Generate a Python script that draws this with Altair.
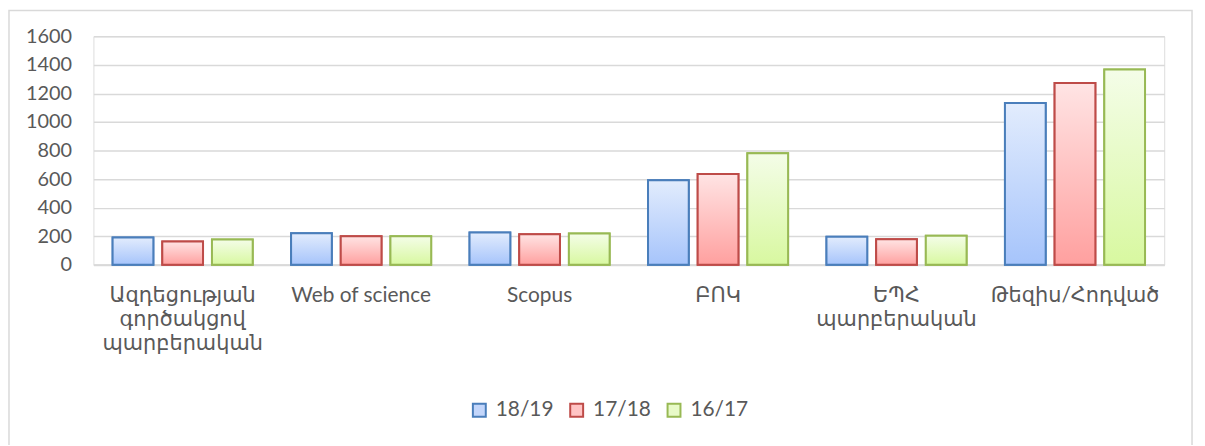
import altair as alt
import pandas as pd

categories = [
    "Ազդեցության\nգործակցով\nպարբերական",
    "Web of science",
    "Scopus",
    "ԲՈԿ",
    "ԵՊՀ\nպարբերական",
    "Թեզիս/Հոդված",
]
series = ["18/19", "17/18", "16/17"]
v_1819 = [191, 221, 226, 591, 196, 1133]
v_1718 = [163, 200, 214, 635, 179, 1272]
v_1617 = [177, 200, 219, 781, 203, 1367]
y_ticks = [0, 200, 400, 600, 800, 1000, 1200, 1400, 1600]

strokes = ["#4a7ebb", "#be4b48", "#98b954"]
flat = ["#c3d6fb", "#ffc4c4", "#e8fac8"]
grad_top = ["#e2ecfd", "#ffe4e4", "#f4fde8"]
grad_bot = ["#a6c4fb", "#ffa09f", "#d8f8a0"]

rows = []
for s, vals in zip(series, [v_1819, v_1718, v_1617]):
    for c, v in zip(categories, vals):
        rows.append({"category": c, "series": s, "value": v})
df = pd.DataFrame(rows)

FONT = "Lato, 'Noto Sans', 'DejaVu Sans', sans-serif"
W, H = 1078, 230

x_enc = alt.X(
    "category:N",
    sort=categories,
    scale=alt.Scale(paddingInner=0.165, paddingOuter=0.0825),
    axis=alt.Axis(
        title=None,
        labelAngle=0,
        labelExpr="split(datum.label, '\\n')",
        labelFontSize=21,
        labelColor="#595959",
        labelFont=FONT,
        labelLineHeight=24,
        labelPadding=20,
        ticks=False,
        domainColor="#d9d9d9",
        domainWidth=2,
        labelBaseline="top",
    ),
)
xo_enc = alt.XOffset(
    "series:N",
    sort=series,
    scale=alt.Scale(domain=series, paddingInner=0.18, paddingOuter=0.09),
)
y_enc = alt.Y(
    "value:Q",
    scale=alt.Scale(domain=[0, 1600], nice=False),
    axis=alt.Axis(
        title=None,
        values=y_ticks,
        format="d",
        labelFontSize=20,
        labelColor="#595959",
        labelFont=FONT,
        labelPadding=22,
        ticks=False,
        domain=False,
        gridColor="#d9d9d9",
        gridWidth=1.5,
    ),
)

legend = alt.Legend(
    title=None,
    orient="none",
    direction="horizontal",
    legendX=378,
    legendY=366,
    symbolType="square",
    symbolSize=169,
    symbolStrokeWidth=2,
    labelFontSize=21,
    labelColor="#595959",
    labelFont=FONT,
    columnPadding=12,
    labelOffset=6,
)

base = alt.Chart(df).mark_bar(strokeWidth=2).encode(
    x=x_enc,
    xOffset=xo_enc,
    y=y_enc,
    fill=alt.Fill(
        "series:N",
        sort=series,
        scale=alt.Scale(domain=series, range=flat),
        legend=legend,
    ),
    stroke=alt.Stroke(
        "series:N",
        sort=series,
        scale=alt.Scale(domain=series, range=strokes),
        legend=legend,
    ),
)

overlays = []
for i, s in enumerate(series):
    grad = alt.LinearGradient(
        gradient="linear",
        stops=[
            alt.GradientStop(color=grad_top[i], offset=0),
            alt.GradientStop(color=grad_bot[i], offset=1),
        ],
        x1=0, x2=0, y1=0, y2=1,
    )
    overlays.append(
        alt.Chart(df)
        .transform_filter(alt.datum.series == s)
        .mark_bar(fill=grad, stroke=strokes[i], strokeWidth=2)
        .encode(x=x_enc, xOffset=xo_enc, y=y_enc)
    )

frame = alt.Chart(pd.DataFrame({"a": [0]})).mark_rect(
    fill=None, stroke="#d9d9d9", strokeWidth=1.5
).encode(
    x=alt.value(-85), x2=alt.value(1106), y=alt.value(-26), y2=alt.value(420)
)

chart = (
    alt.layer(frame, base, *overlays)
    .properties(
        width=W,
        height=H,
        padding={"left": 86, "top": 27, "right": 33, "bottom": 180},
        autosize=alt.AutoSizeParams(type="none"),
    )
    .configure_view(stroke=None)
    .configure(background="white")
)

chart.save("out.html", embed_options={"renderer": "svg", "actions": False})
